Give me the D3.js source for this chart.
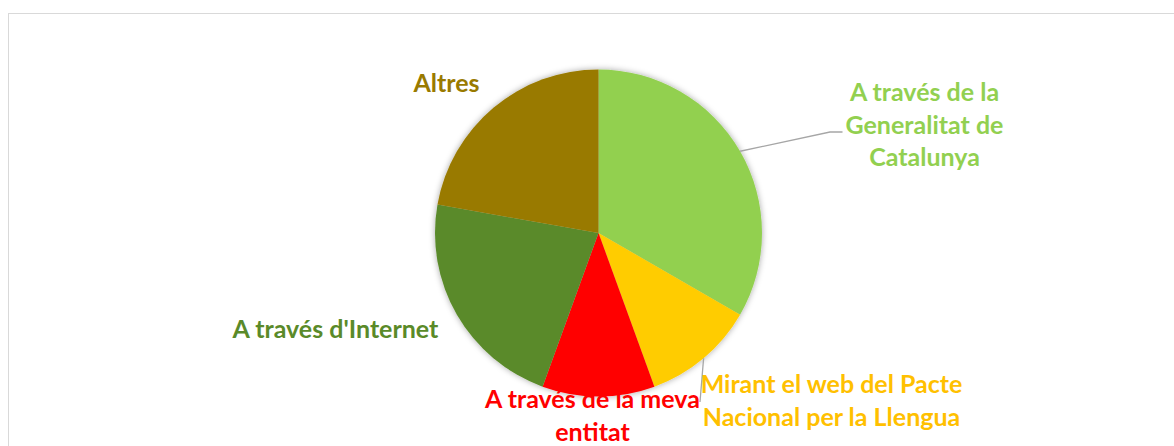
<!DOCTYPE html>
<html><head><meta charset="utf-8">
<script src="https://cdn.jsdelivr.net/npm/d3@7"></script>
<style>html,body{margin:0;padding:0;background:#fff;overflow:hidden}</style>
</head><body>
<svg id="chart" width="1174" height="446"></svg>
<script>
const categories = ["A través de la Generalitat de Catalunya", "Mirant el web del Pacte Nacional per la Llengua", "A través de la meva entitat", "A través d'Internet", "Altres"];
const values = [3, 1, 1, 2, 2];
const colors = ["#92D050", "#FFCC00", "#FF0000", "#5A8A29", "#997A00"];
const labelColors = ["#92D050", "#FFC000", "#FF0000", "#5A8A29", "#997A00"];
const labelLines = [["A través de la", "Generalitat de", "Catalunya"], ["Mirant el web del Pacte", "Nacional per la Llengua"], ["A través de la meva", "entitat"], ["A través d'Internet"], ["Altres"]];

const svg = d3.select("#chart");
const W = 1174, H = 446;
svg.append("rect").attr("x", 8.5).attr("y", 13.5).attr("width", W + 20).attr("height", H + 20)
  .attr("fill", "#fff").attr("stroke", "#d9d9d9").attr("stroke-width", 1);

const defs = svg.append("defs");
const f = defs.append("filter").attr("id", "sh").attr("x", "-20%").attr("y", "-20%").attr("width", "140%").attr("height", "140%");
f.append("feDropShadow").attr("dx", 0).attr("dy", 0).attr("stdDeviation", 3).attr("flood-color", "#000").attr("flood-opacity", 0.35);

const cx = 598.5, cy = 233, R = 163.5;
const pie = d3.pie().sort(null).value(d => d)(values);
const arc = d3.arc().innerRadius(0).outerRadius(R);
const g = svg.append("g").attr("transform", `translate(${cx},${cy})`);
g.append("g").attr("filter", "url(#sh)").selectAll("path").data(pie).join("path")
  .attr("d", arc).attr("fill", (d, i) => colors[i]);

// leader lines: start at slice mid-angle on the rim, end near the label
const edge = d => { const a = (d.startAngle + d.endAngle) / 2; return [Math.sin(a) * R, -Math.cos(a) * R]; };
const leaderEnds = { 0: [[231.5, -101], [244, -101]], 1: [[101.5, 169]] };
Object.keys(leaderEnds).forEach(k => {
  const pts = [edge(pie[k])].concat(leaderEnds[k]);
  g.append("path").attr("d", d3.line()(pts)).attr("fill", "none").attr("stroke", "#a6a6a6").attr("stroke-width", 1.3);
});

// label anchors (center x, first baseline y) relative to pie center
const labelPos = [[326, -132], [233, 160], [-6, 175], [-263, 105], [-152, -141]];
const lh = 32.5;
labelLines.forEach((lines, i) => {
  const t = g.append("text").attr("text-anchor", "middle")
    .attr("font-family", "Lato, 'Open Sans', sans-serif").attr("font-weight", 700).attr("font-size", 25)
    .attr("fill", labelColors[i]);
  lines.forEach((s, j) => t.append("tspan").attr("x", labelPos[i][0]).attr("y", labelPos[i][1] + j * lh).text(s));
});
</script>
</body></html>
